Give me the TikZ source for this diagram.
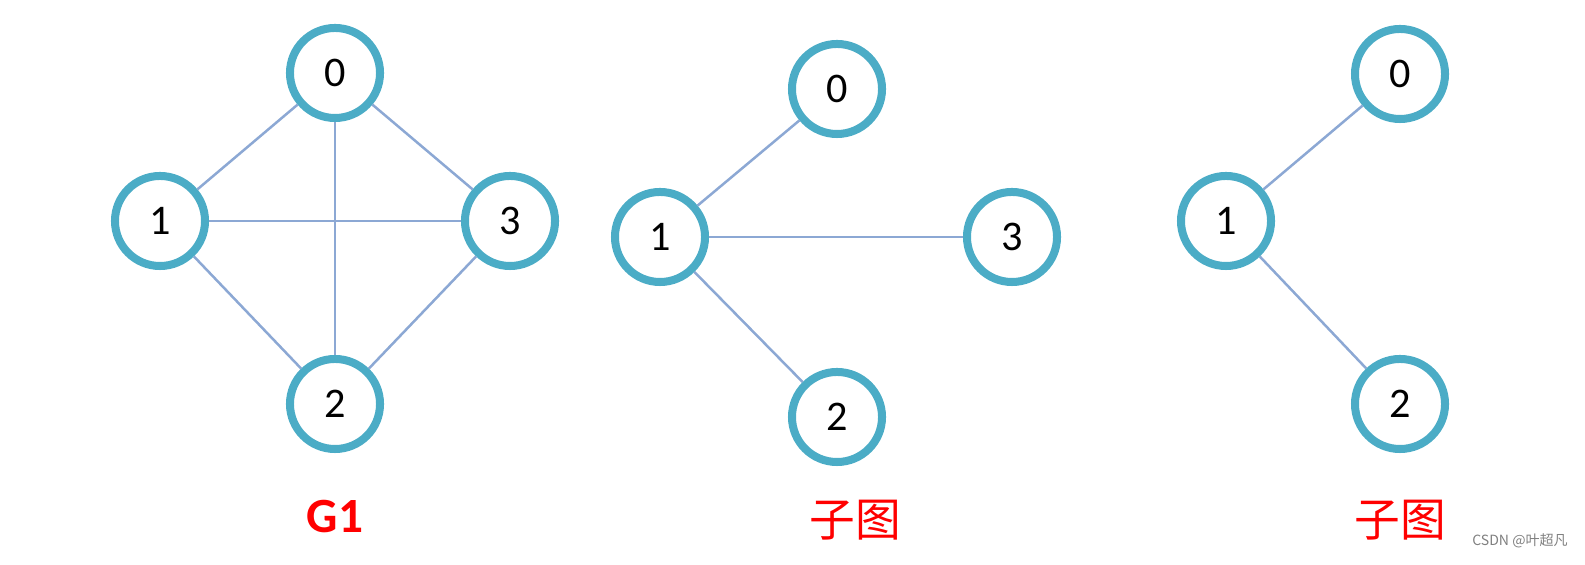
\documentclass[tikz,border=0pt]{standalone}
\usepackage{fontspec}
\setmainfont{Carlito}
\newfontfamily\cjk{Noto Sans CJK SC}
\usetikzlibrary{positioning}
\definecolor{ringblue}{RGB}{75,172,198}
\definecolor{edgeblue}{RGB}{140,168,212}
\begin{document}
\begin{tikzpicture}[x=0.01cm, y=-0.01cm]
		\tikzstyle{vert}=[circle, draw=ringblue, line width=0.8mm, minimum size=0.9cm, inner sep=0pt, font=\fontsize{12}{14}\selectfont, fill=white]
		\tikzstyle{edge}=[draw=edgeblue, line width=0.25mm]
		\tikzstyle{gcap}=[text=red, font=\fontsize{14}{16}\selectfont\bfseries]
		\useasboundingbox (0,0) rectangle (1585,565);
		
		%% G1
		\node [vert] (a0) at (335,73) {0};
		\node [vert] (a1) at (160,221) {1};
		\node [vert] (a3) at (510,221) {3};
		\node [vert] (a2) at (335,404) {2};
		\foreach \u/\v in {a0/a1,a0/a2,a0/a3,a1/a3,a1/a2,a2/a3}
		\draw [edge] (\u) -- (\v);
		\node [gcap] (g1) at (335,517) {G1};
		
		%% first subgraph
		\node [vert] (b0) at (837,89) {0};
		\node [vert] (b1) at (660,237) {1};
		\node [vert] (b3) at (1012,237) {3};
		\node [vert] (b2) at (837,417) {2};
		\foreach \v in {b0,b2,b3}
		\draw [edge] (b1) -- (\v);
		\node [gcap, font=\cjk\fontsize{13}{15}\selectfont] (s1) at (855,520) {子图};
		
		%% second subgraph
		\node [vert] (c0) at (1400,74) {0};
		\node [vert] (c1) at (1226,221) {1};
		\node [vert] (c2) at (1400,404) {2};
		\foreach \v in {c0,c2}
		\draw [edge] (c1) -- (\v);
		\node [gcap, font=\cjk\fontsize{13}{15}\selectfont] (s2) at (1400,520) {子图};
		
		\node [text=gray, font=\cjk\fontsize{4}{5}\selectfont] (wm) at (1520,541) {CSDN @叶超凡};
\end{tikzpicture}
\end{document}
